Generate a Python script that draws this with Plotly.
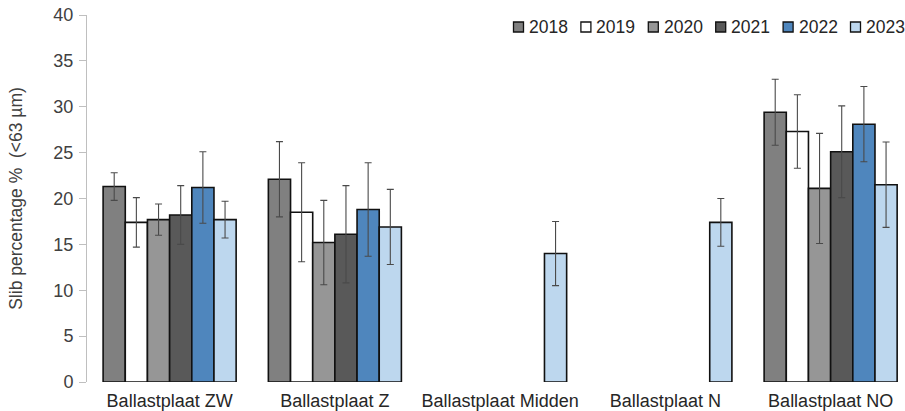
import plotly.graph_objects as go

# Sampling locations and survey years
locations = ["Ballastplaat ZW", "Ballastplaat Z", "Ballastplaat Midden", "Ballastplaat N", "Ballastplaat NO"]
years = ["2018", "2019", "2020", "2021", "2022", "2023"]

# Mean silt percentage (<63 µm) per year, per location (None = not sampled)
silt_2018 = [21.3, 22.1, None, None, 29.4]
silt_2019 = [17.4, 18.5, None, None, 27.3]
silt_2020 = [17.7, 15.2, None, None, 21.1]
silt_2021 = [18.2, 16.1, None, None, 25.1]
silt_2022 = [21.2, 18.8, None, None, 28.1]
silt_2023 = [17.7, 16.9, 14.0, 17.4, 21.5]

# Standard deviations
sd_2018 = [1.5, 4.1, None, None, 3.6]
sd_2019 = [2.7, 5.4, None, None, 4.0]
sd_2020 = [1.7, 4.6, None, None, 6.0]
sd_2021 = [3.2, 5.3, None, None, 5.0]
sd_2022 = [3.9, 5.1, None, None, 4.1]
sd_2023 = [2.0, 4.1, 3.5, 2.6, 4.65]

values = [silt_2018, silt_2019, silt_2020, silt_2021, silt_2022, silt_2023]
errors = [sd_2018, sd_2019, sd_2020, sd_2021, sd_2022, sd_2023]
colors = ["#808080", "#ffffff", "#969696", "#595959", "#4f86bd", "#bdd7ee"]

font_family = "Liberation Sans, Arial, sans-serif"
x_pos = list(range(len(locations)))

W, H = 905, 411
M_L, M_R, M_T, M_B = 87, 0, 15, 29

fig = go.Figure()
for year, vals, errs, col in zip(years, values, errors, colors):
    fig.add_trace(go.Bar(
        x=x_pos, y=vals, name=year, showlegend=False,
        marker=dict(color=col, line=dict(color="#111111", width=1.6)),
        error_y=dict(type="data", array=errs, visible=True,
                     color="#4a4a4a", thickness=1.1, width=3.5),
    ))

# Compact legend row along the top right: small swatch + year label
plot_w = W - M_L - M_R
plot_h = H - M_T - M_B
def px_x(p):
    return (p - M_L) / plot_w
def px_y(p):
    return (H - M_B - p) / plot_h

leg_x0, leg_step, leg_y, sw = 513.5, 67.4, 27, 10
for i, (year, col) in enumerate(zip(years, colors)):
    x0 = leg_x0 + i * leg_step
    fig.add_shape(type="rect", xref="paper", yref="paper",
                  x0=px_x(x0), x1=px_x(x0 + sw),
                  y0=px_y(leg_y + sw / 2), y1=px_y(leg_y - sw / 2),
                  fillcolor=col, line=dict(color="#111111", width=1.3))
    fig.add_annotation(xref="paper", yref="paper", x=px_x(x0 + sw + 3.5), y=px_y(leg_y),
                       xanchor="left", yanchor="middle", showarrow=False,
                       text=year, font=dict(size=17.5, color="#262626"))

fig.update_layout(
    width=W, height=H,
    margin=dict(l=M_L, r=M_R, t=M_T, b=M_B, autoexpand=False),
    paper_bgcolor="white", plot_bgcolor="white",
    barmode="group", bargap=0.195, bargroupgap=0,
    font=dict(family=font_family, size=17, color="#404040"),
    showlegend=False,
)
fig.update_xaxes(
    tickmode="array", tickvals=x_pos, ticktext=locations, automargin=False,
    range=[-0.5, 4.45], showline=False, showgrid=False, zeroline=False,
    ticks="", tickfont=dict(size=18, color="#262626"), ticklabelstandoff=6,
)
fig.update_yaxes(
    range=[0, 40], dtick=5, showgrid=False, zeroline=False, automargin=False,
    showline=True, linecolor="#bfbfbf", linewidth=1,
    ticks="outside", ticklen=7, tickcolor="#bfbfbf",
    tickfont=dict(size=18, color="#404040"), ticklabelstandoff=2,
    title=dict(text="Slib percentage %\u00a0\u00a0(<63 µm)", standoff=26,
               font=dict(size=17.5, color="#404040")),
)

fig.write_html("out.html")
